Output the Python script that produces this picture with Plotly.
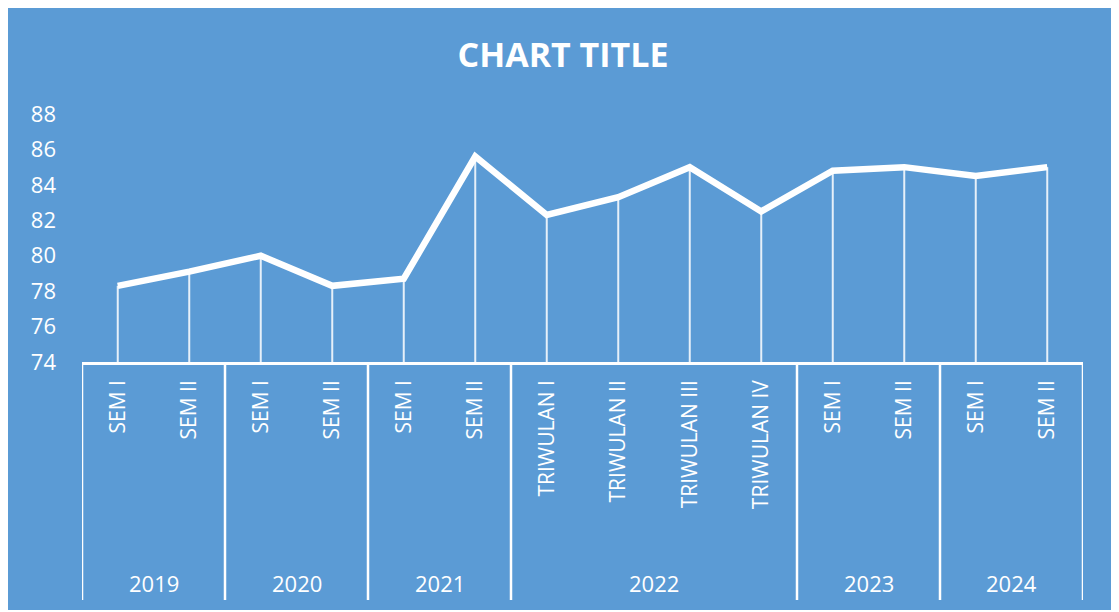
import plotly.graph_objects as go

years = ["2019", "2019", "2020", "2020", "2021", "2021",
         "2022", "2022", "2022", "2022", "2023", "2023", "2024", "2024"]
periods = ["SEM I", "SEM II", "SEM I", "SEM II", "SEM I", "SEM II",
           "TRIWULAN I", "TRIWULAN II", "TRIWULAN III", "TRIWULAN IV",
           "SEM I", "SEM II", "SEM I", "SEM II"]
values = [78.3, 79.1, 80.0, 78.3, 78.7, 85.6, 82.3, 83.3, 85.0, 82.5, 84.8, 85.0, 84.5, 85.0]
y_min, y_max = 74, 88

BG = "#5B9BD5"
FONT = "Open Sans"

W, H = 1110, 602
ML, MR, MT, MB = 74, 35, 106, 248
plot_h = H - MT - MB

idx = list(range(len(values)))

fig = go.Figure()
fig.add_trace(go.Scatter(
    x=idx, y=values, mode="lines",
    line=dict(color="white", width=6.5),
    error_y=dict(type="data", symmetric=False, array=[0] * len(values),
                 arrayminus=[v - y_min for v in values],
                 color="rgba(255,255,255,0.85)", thickness=2, width=0),
    hoverinfo="y", showlegend=False,
))

# group dividers and year labels (derived from the years list)
groups = []
start = 0
for i in range(1, len(years) + 1):
    if i == len(years) or years[i] != years[start]:
        groups.append((years[start], start, i - 1))
        start = i

div_bottom = -238 / plot_h
label_y = -221 / plot_h
bounds = [g[1] - 0.5 for g in groups] + [groups[-1][2] + 0.5]
for b in bounds:
    fig.add_shape(type="line", xref="x", yref="paper", x0=b, x1=b, y0=0, y1=div_bottom,
                  line=dict(color="white", width=2.5))
for name, a, z in groups:
    fig.add_annotation(x=(a + z) / 2, y=label_y, xref="x", yref="paper",
                       text=name, showarrow=False, yanchor="middle",
                       font=dict(family=FONT, size=22, color="white"))

fig.update_layout(
    width=W, height=H,
    paper_bgcolor=BG, plot_bgcolor=BG,
    margin=dict(l=ML, r=MR, t=MT, b=MB),
    title=dict(text="<b>CHART TITLE</b>", x=0.5, xanchor="center", y=1 - 47 / H, yanchor="middle",
               font=dict(family=FONT, size=34, color="white")),
    xaxis=dict(range=[-0.5, len(values) - 0.5], tickvals=idx, ticktext=periods,
               showline=True, linecolor="white", linewidth=2.5,
               tickangle=-90, ticks="", showgrid=False, zeroline=False,
               automargin=False, ticklabelstandoff=7,
               tickfont=dict(family=FONT, size=21, color="white")),
    yaxis=dict(range=[y_min, y_max], dtick=2, showgrid=False, zeroline=False,
               showline=False, ticks="", automargin=False, ticklabelstandoff=25,
               tickfont=dict(family=FONT, size=22, color="white")),
)
fig.write_html("out.html")
